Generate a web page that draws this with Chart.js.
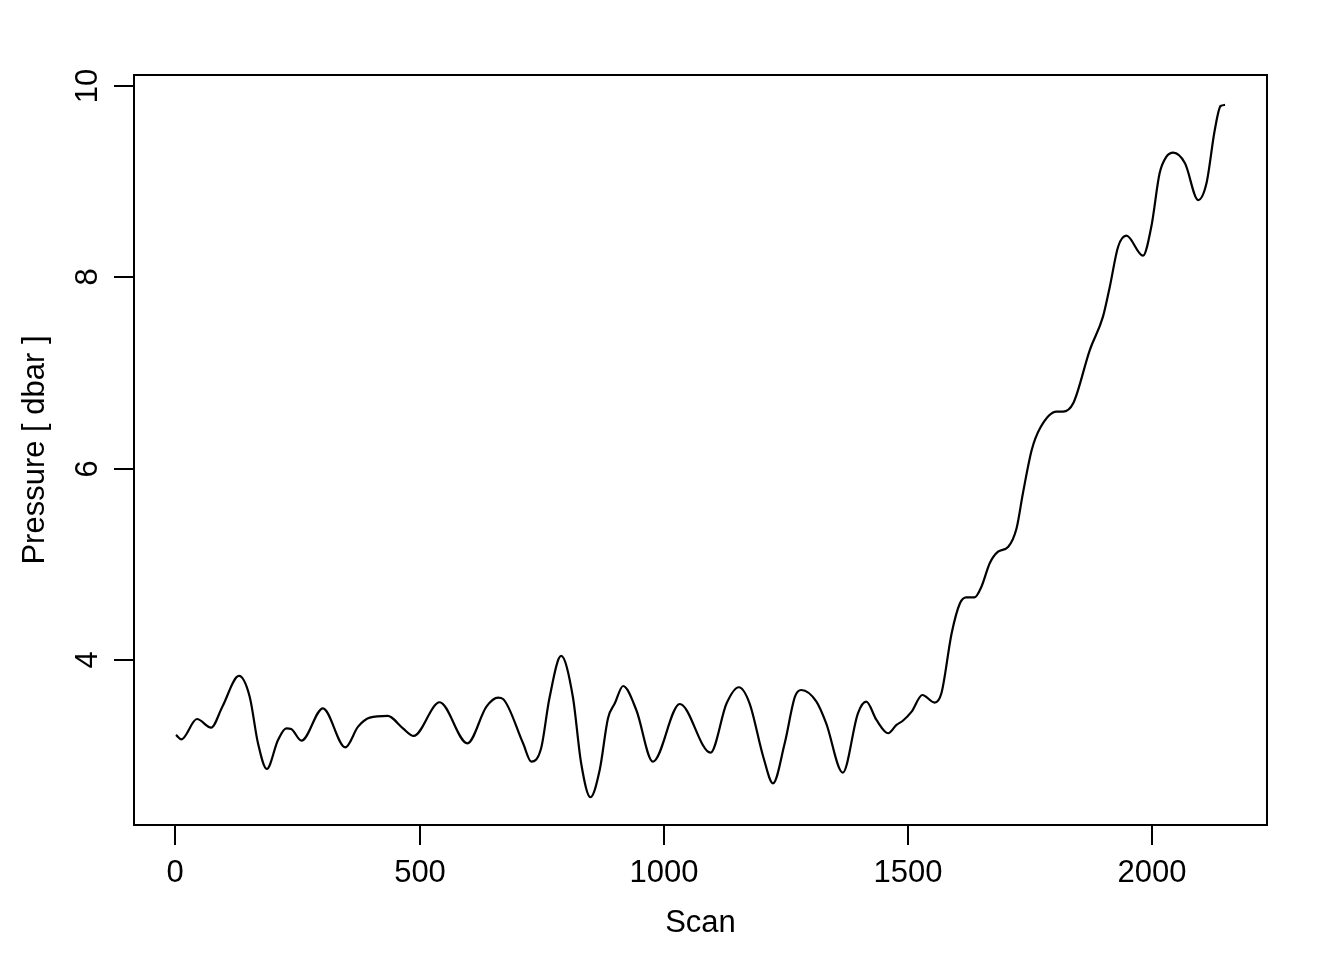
<!DOCTYPE html>
<html>
<head>
<meta charset="utf-8">
<script src="https://cdn.jsdelivr.net/npm/chart.js@4/dist/chart.umd.min.js"></script>
<style>
  body { margin: 0; background: #fff; }
  #wrap { width: 1344px; height: 960px; }
</style>
</head>
<body>
<div id="wrap"><canvas id="pressureChart" width="1344" height="960"></canvas></div>
<script>
// scan number and pressure
const scans = [
    1, 12, 44, 73, 96, 130, 152, 169, 187, 210, 227, 237, 258, 302, 348, 374,
    398, 435, 442, 466, 488, 541, 598, 637, 661, 671, 712, 729, 749, 766, 790,
    814, 831, 850, 869, 886, 900, 917, 944, 978, 1033, 1096, 1129, 1154, 1176,
    1204, 1224, 1248, 1269, 1282, 1313, 1333, 1367, 1398, 1415, 1436, 1460,
    1477, 1490, 1508, 1530, 1555, 1569, 1590, 1607, 1620, 1637, 1651, 1668,
    1685, 1706, 1723, 1736, 1754, 1771, 1805, 1818, 1839, 1873, 1900, 1914,
    1931, 1948, 1982, 1999, 2016, 2030, 2044, 2068, 2095, 2112, 2129, 2141, 2150
];
const pressure = [
    3.216, 3.171, 3.383, 3.292, 3.512, 3.833, 3.616, 3.129, 2.861, 3.164, 3.286,
    3.279, 3.156, 3.495, 3.087, 3.303, 3.397, 3.415, 3.401, 3.286, 3.206, 3.558,
    3.129, 3.512, 3.606, 3.592, 3.129, 2.937, 3.077, 3.600, 4.042, 3.616, 2.920,
    2.565, 2.850, 3.391, 3.547, 3.728, 3.477, 2.937, 3.540, 3.031, 3.547, 3.715,
    3.547, 2.989, 2.711, 3.129, 3.616, 3.686, 3.564, 3.338, 2.822, 3.443, 3.564,
    3.373, 3.234, 3.321, 3.365, 3.460, 3.634, 3.554, 3.652, 4.279, 4.593, 4.655,
    4.655, 4.766, 5.011, 5.132, 5.184, 5.377, 5.743, 6.195, 6.422, 6.596, 6.596,
    6.683, 7.240, 7.589, 7.902, 8.320, 8.435, 8.226, 8.529, 9.087, 9.261, 9.303,
    9.192, 8.808, 8.983, 9.540, 9.791, 9.802
];
const xTicks = [0, 500, 1000, 1500, 2000];
const yTicks = [4, 6, 8, 10];
const xTitle = 'Scan';
const yTitle = 'Pressure [ dbar ]';

const FONT = '31px "Liberation Sans", Arial, sans-serif';

// base-graphics style box, ticks and labels drawn from the chart scales
const baseAxes = {
    id: 'baseAxes',
    afterDraw(chart) {
        const ctx = chart.ctx;
        const area = chart.chartArea;
        const xs = chart.scales.x;
        const ys = chart.scales.y;
        ctx.save();
        ctx.strokeStyle = '#000';
        ctx.fillStyle = '#000';
        ctx.lineWidth = 2;
        ctx.strokeRect(area.left, area.top, area.right - area.left, area.bottom - area.top);

        ctx.font = FONT;
        ctx.textAlign = 'center';
        ctx.textBaseline = 'middle';
        xTicks.forEach(v => {
            const px = Math.round(xs.getPixelForValue(v));
            ctx.beginPath();
            ctx.moveTo(px, area.bottom);
            ctx.lineTo(px, area.bottom + 20);
            ctx.stroke();
            ctx.fillText(String(v), px, area.bottom + 48);
        });
        ctx.fillText(xTitle, (area.left + area.right) / 2, area.bottom + 98);

        yTicks.forEach(v => {
            const py = Math.round(ys.getPixelForValue(v));
            ctx.beginPath();
            ctx.moveTo(area.left, py);
            ctx.lineTo(area.left - 20, py);
            ctx.stroke();
            ctx.save();
            ctx.translate(area.left - 46, py);
            ctx.rotate(-Math.PI / 2);
            ctx.fillText(String(v), 0, 0);
            ctx.restore();
        });
        ctx.save();
        ctx.translate(area.left - 99, (area.top + area.bottom) / 2);
        ctx.rotate(-Math.PI / 2);
        ctx.fillText(yTitle, 0, 0);
        ctx.restore();
        ctx.restore();
    }
};

new Chart(document.getElementById('pressureChart'), {
    type: 'line',
    data: {
        datasets: [{
            data: scans.map((s, i) => ({ x: s, y: pressure[i] })),
            borderColor: '#000',
            borderWidth: 2.2,
            pointRadius: 0,
            fill: false,
            cubicInterpolationMode: 'monotone'
        }]
    },
    options: {
        responsive: false,
        animation: false,
        layout: { padding: { left: 134, right: 77, top: 75, bottom: 135 } },
        plugins: { legend: { display: false }, tooltip: { enabled: false } },
        scales: {
            x: { type: 'linear', min: -85, max: 2236, display: false },
            y: { min: 2.275, max: 10.115, display: false }
        }
    },
    plugins: [baseAxes]
});
</script>
</body>
</html>
